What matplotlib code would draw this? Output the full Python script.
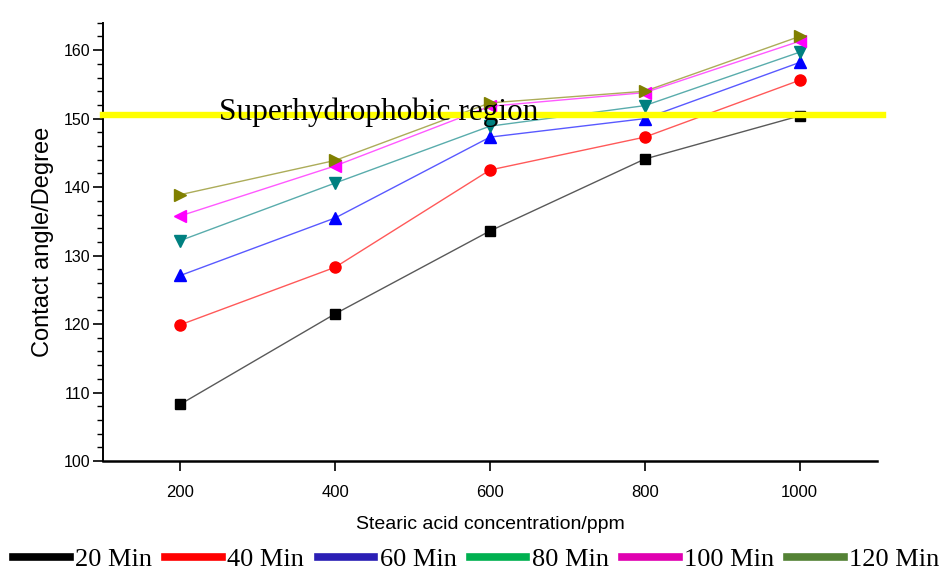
import numpy as np
import matplotlib
matplotlib.use("Agg")
import matplotlib.pyplot as plt
from matplotlib.lines import Line2D
from matplotlib.ticker import MultipleLocator

# concentrations (ppm) and contact angles
conc = [200, 400, 600, 800, 1000]
min20 = [108.3, 121.5, 133.6, 144.1, 150.4]
min40 = [119.9, 128.3, 142.5, 147.3, 155.6]
min60 = [127.1, 135.5, 147.3, 150.0, 158.2]
min80 = [132.2, 140.6, 148.9, 151.9, 159.7]
min100 = [135.8, 143.1, 151.8, 153.8, 161.3]
min120 = [138.9, 143.9, 152.3, 154.0, 162.0]

labels = ["20 Min", "40 Min", "60 Min", "80 Min", "100 Min", "120 Min"]
series = [min20, min40, min60, min80, min100, min120]
marker_colors = ["#000000", "#ff0000", "#0000ff", "#008080", "#ff00ff", "#808000"]
markers = ["s", "o", "^", "v", "<", ">"]
msizes = [7, 8, 9, 9, 9, 9]
# legend uses its own colours in the original
legend_colors = ["#000000", "#ff0000", "#2b1fb5", "#00b050", "#e000b0", "#548235"]
threshold = 150.5

fig = plt.figure(figsize=(9.47, 5.72), dpi=100)
ax = fig.add_axes([0.1088, 0.194, 0.8172, 0.7662])

for y, c, m, ms in zip(series, marker_colors, markers, msizes):
    ax.plot(conc, y, color=c, lw=1.0, alpha=0.65, zorder=2)
    ax.plot(conc, y, linestyle="none", marker=m, ms=ms, color=c, zorder=3)

# superhydrophobic threshold
ax.axhline(threshold, xmin=0, xmax=1.008, color="#ffff00", lw=4.6, zorder=4, clip_on=False)
ax.text(250, 149.8, "Superhydrophobic region", family="Liberation Serif",
        fontsize=22.5, va="baseline", ha="left", zorder=5)

ax.set_xlim(100, 1100)
ax.set_ylim(100, 164)
ax.set_xticks(conc)
ax.yaxis.set_major_locator(MultipleLocator(10))
ax.yaxis.set_minor_locator(MultipleLocator(2))

for s in ["top", "right"]:
    ax.spines[s].set_visible(False)
ax.spines["bottom"].set_linewidth(1.8)
ax.spines["left"].set_linewidth(1.4)

ax.tick_params(axis="x", which="major", direction="out", length=7, width=1.2,
               labelsize=12, pad=10)
ax.tick_params(axis="y", which="major", direction="out", length=7, width=1.2,
               labelsize=11.5, pad=2)
ax.tick_params(axis="y", which="minor", direction="out", length=4, width=1.0)
for lbl in ax.get_xticklabels() + ax.get_yticklabels():
    lbl.set_family("Liberation Sans")

ax.set_xlabel("Stearic acid concentration/ppm", family="Liberation Sans",
              fontsize=14, labelpad=12)
ax.set_ylabel("Contact angle/Degree", family="Liberation Sans",
              fontsize=17, labelpad=7)

handles = [Line2D([], [], color=c, lw=5.5) for c in legend_colors]
fig.legend(handles, labels, loc="center", bbox_to_anchor=(0.503, 0.022),
           ncol=6, frameon=False, prop={"family": "Liberation Serif", "size": 19},
           handlelength=2.15, handletextpad=0.2, columnspacing=0.5,
           borderaxespad=0, borderpad=0)

fig.savefig("out.png", dpi=100)
